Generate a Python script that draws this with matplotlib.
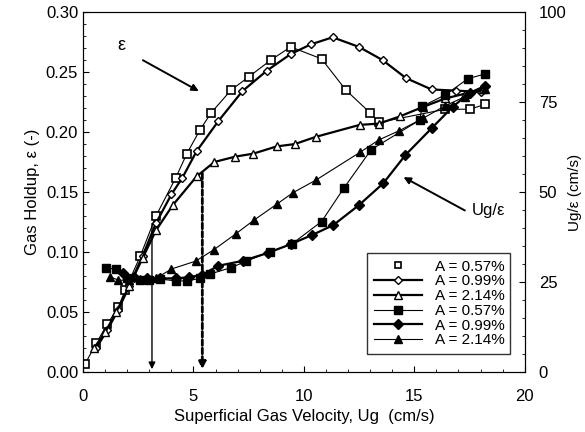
import matplotlib
matplotlib.use("Agg")
import matplotlib.pyplot as plt
from matplotlib.lines import Line2D
from matplotlib.ticker import MultipleLocator, FormatStrFormatter

plt.rcParams['font.family'] = ['Liberation Sans', 'DejaVu Sans']

# gas holdup (left axis), open markers
sq_o_x = [0.1, 0.6, 1.1, 1.6, 1.9, 2.6, 3.3, 4.2, 4.7, 5.3, 5.8, 6.7, 7.5, 8.5, 9.4, 10.8, 11.9, 13.0, 13.4, 16.4, 17.5, 18.2]
sq_o_y = [0.007, 0.024, 0.040, 0.054, 0.068, 0.097, 0.130, 0.162, 0.182, 0.202, 0.216, 0.235, 0.246, 0.260, 0.271, 0.261, 0.235, 0.216, 0.208, 0.219, 0.219, 0.223]

dia_o_x = [0.6, 1.1, 1.6, 2.1, 2.7, 3.3, 4.0, 4.5, 5.14, 6.12, 7.21, 8.31, 9.4, 10.3, 11.3, 12.49, 13.56, 14.62, 15.78, 16.9, 18.04]
dia_o_y = [0.020, 0.035, 0.052, 0.072, 0.097, 0.124, 0.148, 0.162, 0.184, 0.209, 0.234, 0.251, 0.265, 0.273, 0.279, 0.271, 0.260, 0.245, 0.2355, 0.2345, 0.2335]

tri_o_x = [0.5, 1.0, 1.5, 2.1, 2.7, 3.3, 4.06, 5.14, 5.94, 6.89, 7.71, 8.76, 9.59, 10.54, 12.53, 13.39, 14.34, 15.4, 16.4, 17.3, 18.1]
tri_o_y = [0.020, 0.033, 0.050, 0.072, 0.095, 0.118, 0.139, 0.163, 0.175, 0.1795, 0.182, 0.188, 0.190, 0.196, 0.206, 0.207, 0.213, 0.221, 0.228, 0.232, 0.236]

# Ug/eps (right axis), filled markers
sq_f_x = [1.05, 1.5, 2.0, 2.6, 3.0, 3.5, 4.2, 4.7, 5.3, 5.75, 6.7, 7.4, 8.46, 9.44, 10.8, 11.8, 13.05, 15.25, 15.35, 16.4, 17.43, 18.2]
sq_f_y = [29.0, 28.5, 26.0, 25.5, 25.5, 25.8, 25.3, 25.3, 26.0, 27.2, 29.0, 30.8, 33.4, 35.5, 41.8, 51.0, 61.8, 70.0, 73.8, 77.0, 81.5, 82.8]

dia_f_x = [1.8, 2.3, 2.9, 3.5, 4.2, 4.8, 5.4, 6.12, 7.25, 8.38, 9.4, 10.35, 11.33, 12.5, 13.59, 14.6, 15.78, 16.74, 17.5, 18.2]
dia_f_y = [27.5, 26.3, 26.0, 26.0, 26.0, 26.3, 27.0, 29.5, 30.9, 33.1, 35.5, 38.0, 40.8, 46.4, 52.4, 60.3, 67.7, 73.7, 77.5, 79.5]

tri_f_x = [1.2, 1.6, 2.1, 2.6, 3.3, 4.0, 5.1, 5.93, 6.92, 7.74, 8.79, 9.5, 10.54, 12.53, 13.4, 14.3, 15.4, 16.4, 17.3, 18.2]
tri_f_y = [26.5, 25.5, 25.5, 25.8, 26.0, 28.6, 30.8, 34.0, 38.4, 42.2, 46.7, 49.8, 53.3, 61.0, 64.5, 67.0, 70.5, 74.0, 76.5, 78.5]

labels = ["A = 0.57%", "A = 0.99%", "A = 2.14%", "A = 0.57%", "A = 0.99%", "A = 2.14%"]

fig = plt.figure(figsize=(5.85, 4.32), dpi=100)
ax = fig.add_axes([0.142, 0.139, 0.755, 0.833])
ax2 = ax.twinx()

ax.plot(sq_o_x, sq_o_y, color="black", lw=0.8, marker="s", ms=6, mfc="white", mew=1.2)
h2, = ax.plot(dia_o_x, dia_o_y, color="black", lw=1.6, marker="D", ms=4, mfc="white", mew=1.0)
h3, = ax.plot(tri_o_x, tri_o_y, color="black", lw=1.6, marker="^", ms=6, mfc="white", mew=1.0)
h4, = ax2.plot(sq_f_x, sq_f_y, color="black", lw=0.8, marker="s", ms=6)
h5, = ax2.plot(dia_f_x, dia_f_y, color="black", lw=1.6, marker="D", ms=5)
h6, = ax2.plot(tri_f_x, tri_f_y, color="black", lw=0.8, marker="^", ms=6)
# open squares show only the marker in the legend
h1 = Line2D([], [], ls="none", color="black", marker="s", ms=5, mfc="white", mew=1.2)

# vertical arrows
ax.annotate("", xy=(3.12, 0.0), xytext=(3.12, 0.126),
            arrowprops=dict(arrowstyle="-|>", color="black", lw=1.0, mutation_scale=10))
ax.annotate("", xy=(5.4, 0.0), xytext=(5.4, 0.168),
            arrowprops=dict(arrowstyle="-|>", color="black", lw=2.0, ls=(0, (2, 1)), mutation_scale=10))

# curve labels
ax.annotate("", xy=(5.35, 0.233), xytext=(2.6, 0.261),
            arrowprops=dict(arrowstyle="-|>", color="black", lw=1.4, mutation_scale=10))
ax.text(1.75, 0.272, "ε", fontsize=13, ha="center", va="center")
ax2.annotate("", xy=(14.4, 54.5), xytext=(17.4, 44.5),
             arrowprops=dict(arrowstyle="-|>", color="black", lw=1.4, mutation_scale=10))
ax2.text(17.6, 45, "Ug/ε", fontsize=12, ha="left", va="center")

ax.set_xlim(0, 20)
ax.set_ylim(0, 0.30)
ax2.set_ylim(0, 100)

ax.xaxis.set_major_locator(MultipleLocator(5))
ax.xaxis.set_minor_locator(MultipleLocator(1))
ax.yaxis.set_major_locator(MultipleLocator(0.05))
ax.yaxis.set_minor_locator(MultipleLocator(0.01))
ax.yaxis.set_major_formatter(FormatStrFormatter("%.2f"))
ax2.yaxis.set_major_locator(MultipleLocator(25))
ax2.yaxis.set_minor_locator(MultipleLocator(5))

ax.tick_params(axis="both", which="both", direction="in", top=False, labelsize=12)
ax.tick_params(axis="x", pad=12)
ax.tick_params(which="major", length=4)
ax.tick_params(which="minor", length=2)
ax2.tick_params(axis="y", which="both", direction="in", labelsize=12, pad=10)
ax2.tick_params(which="major", length=4)
ax2.tick_params(which="minor", length=2)

ax.set_xlabel("Superficial Gas Velocity, Ug  (cm/s)", fontsize=12)
ax.set_ylabel("Gas Holdup, ε (-)", fontsize=12)
ax2.set_ylabel("Ug/ε (cm/s)", fontsize=11, labelpad=1)

leg = ax2.legend([h1, h2, h3, h4, h5, h6], labels, loc="lower right",
                 bbox_to_anchor=(0.985, 0.03), fontsize=11, frameon=True, fancybox=False,
                 edgecolor="black", handlelength=3.2, labelspacing=0.05, borderpad=0.4)
leg.get_frame().set_linewidth(1.0)

fig.savefig("out.png", dpi=100)
